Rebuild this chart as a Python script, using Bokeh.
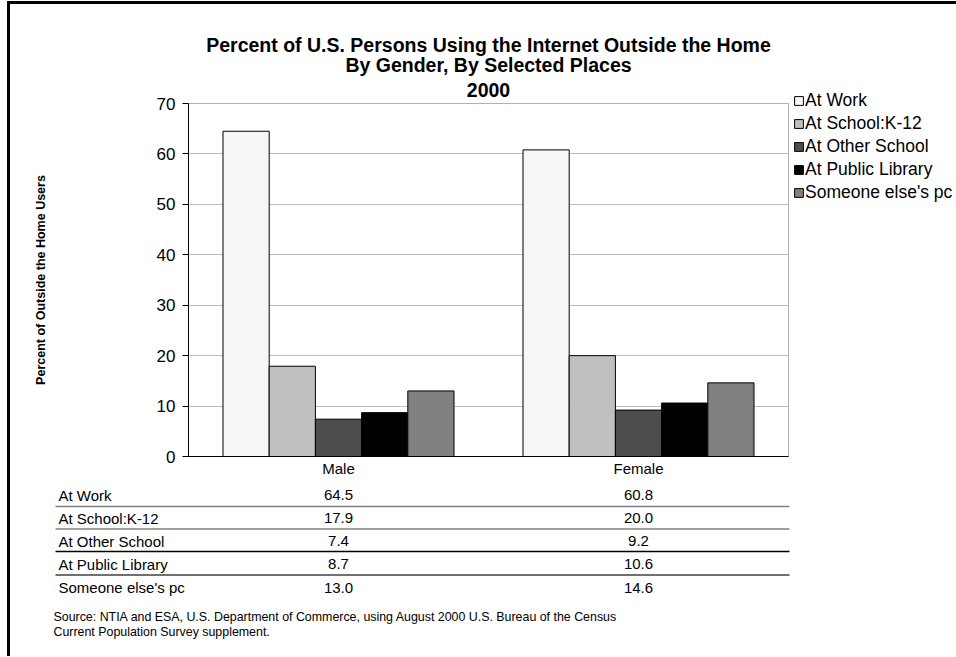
from bokeh.plotting import figure
from bokeh.layouts import column, row
from bokeh.models import (FactorRange, Range1d, Legend, LegendItem, Title,
                          ColumnDataSource, FixedTicker)
from bokeh.transform import dodge
from bokeh.core.properties import value
from bokeh.embed import file_html
from bokeh.resources import INLINE

# ---------------- data ----------------
genders = ["Male", "Female"]
places = ["At Work", "At School:K-12", "At Other School", "At Public Library", "Someone else's pc"]
at_work = [64.5, 60.8]
school_k12 = [17.9, 20.0]
other_school = [7.4, 9.2]
public_library = [8.7, 10.6]
someone_else = [13.0, 14.6]
y_ticks = [0, 10, 20, 30, 40, 50, 60, 70]

title_lines = ["Percent of U.S. Persons Using the Internet Outside the Home",
               "By Gender, By Selected Places",
               "2000"]
y_label_text = "Percent of Outside the Home Users"
source_lines = ["Source:  NTIA and ESA, U.S. Department of Commerce, using August 2000 U.S. Bureau of the Census",
                "Current Population Survey supplement."]

# ---------------- styles / layout ----------------
series = [at_work, school_k12, other_school, public_library, someone_else]
colors = ["#F6F6F6", "#C0C0C0", "#4D4D4D", "#000000", "#808080"]
FONT = "Liberation Sans"
bar_w = 0.154
offsets = [-2 * bar_w, -bar_w, 0.0, bar_w, 2 * bar_w]

OX, OY = 10, 4            # content origin (after page border) in picture pixels
W = 946                   # total content width
H1 = 476                  # main chart height
H2 = 176                  # data table height
FL, FR, FT, FB = 188, 788, 103, 456   # plot frame edges in picture pixels
W1 = FR + 4 - OX          # main chart width
WL = W - W1               # legend strip width

main = figure(width=W1, height=H1, title=None,
              x_range=FactorRange(factors=genders, range_padding=0),
              y_range=Range1d(0, 70), output_backend="svg", toolbar_location=None,
              min_border_left=FL - OX, min_border_right=W1 - (FR - OX),
              min_border_top=FT - OY, min_border_bottom=H1 - (FB - OY),
              background_fill_color="white", border_fill_color="white")
main.outline_line_color = "#B0B0B0"

# y axis
main.yaxis.ticker = FixedTicker(ticks=y_ticks)
main.yaxis.major_tick_out = 6
main.yaxis.major_tick_in = 0
main.yaxis.minor_tick_line_color = None
main.yaxis.axis_line_color = "#000000"
main.yaxis.major_tick_line_color = "#000000"
main.yaxis.major_label_text_font = FONT
main.yaxis.major_label_text_font_size = "17px"
main.yaxis.major_label_text_color = "#000000"
main.yaxis.major_label_standoff = 7
main.yaxis.axis_label = y_label_text
main.yaxis.axis_label_text_font = FONT
main.yaxis.axis_label_text_font_size = "12.5px"
main.yaxis.axis_label_text_font_style = "bold"
main.yaxis.axis_label_text_color = "#000000"
main.yaxis.axis_label_standoff = 106

# x axis
main.xaxis.major_tick_line_color = None
main.xaxis.major_tick_out = 0
main.xaxis.minor_tick_line_color = None
main.xaxis.axis_line_color = "#000000"
main.xaxis.major_label_text_font = FONT
main.xaxis.major_label_text_font_size = "15px"
main.xaxis.major_label_text_color = "#000000"
main.xaxis.major_label_standoff = 3

main.xgrid.grid_line_color = None
main.ygrid.ticker = FixedTicker(ticks=y_ticks)
main.ygrid.grid_line_color = "#BDBDBD"
main.ygrid.grid_line_width = 1

# bars
for i, vals in enumerate(series):
    src = ColumnDataSource(dict(gender=genders, value=vals))
    main.vbar(x=dodge("gender", offsets[i], range=main.x_range), top="value", width=bar_w,
              source=src, fill_color=colors[i], line_color="#000000", line_width=1)

# titles (stacked above the frame; first added is nearest)
for txt, so in zip(reversed(title_lines), [14, -5, -2]):
    main.add_layout(Title(text=txt, align="center", offset=-1.5, standoff=so, text_font=FONT,
                          text_font_size="19.5px", text_font_style="bold",
                          text_color="#000000"), "above")

# ---------------- legend strip (right of chart) ----------------
leg = figure(width=WL, height=H1, title=None, x_range=Range1d(0, 1), y_range=Range1d(0, 1),
             x_axis_type=None, y_axis_type=None, output_backend="svg", toolbar_location=None,
             min_border=0, min_border_left=0, min_border_right=0, min_border_top=0,
             min_border_bottom=0, background_fill_color="white", border_fill_color="white")
leg.outline_line_color = None
leg.grid.visible = False
leg_items = []
for i, place in enumerate(places):
    # proxy renderer (kept outside the visible range) that only supplies the legend swatch
    r = leg.vbar(x=[-1], top=[-1], width=0.1, fill_color=colors[i], line_color="#000000",
                 line_width=1)
    leg_items.append(LegendItem(label=place, renderers=[r]))
LEG_TOP, ROW_H, ROW_GAP = 89, 22, 1
leg_h = len(places) * ROW_H + (len(places) - 1) * ROW_GAP
legend = Legend(items=leg_items, location=(793 - (OX + W1), OY + H1 - (LEG_TOP + leg_h)),
                orientation="vertical", glyph_width=11, glyph_height=11, label_standoff=1,
                label_height=ROW_H, spacing=ROW_GAP, padding=0, margin=0,
                border_line_color=None, background_fill_alpha=0, label_text_font=FONT,
                label_text_font_size="17.5px", label_text_color="#000000")
leg.add_layout(legend)

# ---------------- data table below ----------------
def cx(px):
    # picture x pixel -> category units of the main chart
    return (px - FL) / ((FR - FL) / len(genders))

table = figure(width=W, height=H2, title=None,
               x_range=Range1d(cx(OX), cx(OX + W)),
               y_range=Range1d(OY + H1 + H2, OY + H1),
               x_axis_type=None, y_axis_type=None,
               output_backend="svg", toolbar_location=None,
               min_border=0, min_border_left=0, min_border_right=0,
               min_border_top=0, min_border_bottom=0,
               background_fill_color="white", border_fill_color="white")
table.outline_line_color = None
table.grid.visible = False

for f in (main, leg, table):
    try:
        f.frame_align = False
    except Exception:
        pass

row_y = [494.5, 517.5, 540.5, 563.5, 587]
line_y = [506, 528.5, 551, 574.5]
line_colors = ["#808080", "#808080", "#000000", "#404040"]

lab_src = ColumnDataSource(dict(x=[cx(58)] * len(places), y=row_y, txt=places))
table.text(x="x", y="y", text="txt", source=lab_src, text_align="left",
           text_baseline="middle", text_font=value(FONT), text_font_size=value("15px"),
           text_color="#000000")
for i in range(len(places)):
    tsrc = ColumnDataSource(dict(gender=genders, y=[row_y[i]] * len(genders),
                                 txt=["%.1f" % v for v in series[i]]))
    table.text(x=dodge("gender", 0, range=main.x_range), y="y", text="txt", source=tsrc,
               text_align="center", text_baseline="middle", text_font=value(FONT),
               text_font_size=value("15px"), text_color="#000000")

table.segment(x0=[cx(55)] * 4, x1=[cx(789)] * 4, y0=line_y, y1=line_y,
              line_color=line_colors, line_width=1.3)

src_src = ColumnDataSource(dict(x=[cx(53)] * 2, y=[616, 631], txt=source_lines))
table.text(x="x", y="y", text="txt", source=src_src, text_align="left",
           text_baseline="middle", text_font=value(FONT), text_font_size=value("12.4px"),
           text_color="#000000")

layout = column(row(main, leg, spacing=0), table, spacing=0,
                styles={"border-left": "3px solid #000000", "border-top": "3px solid #000000",
                        "margin-left": "7px", "margin-top": "1px"})

open("out.html", "w").write(file_html(layout, INLINE))
